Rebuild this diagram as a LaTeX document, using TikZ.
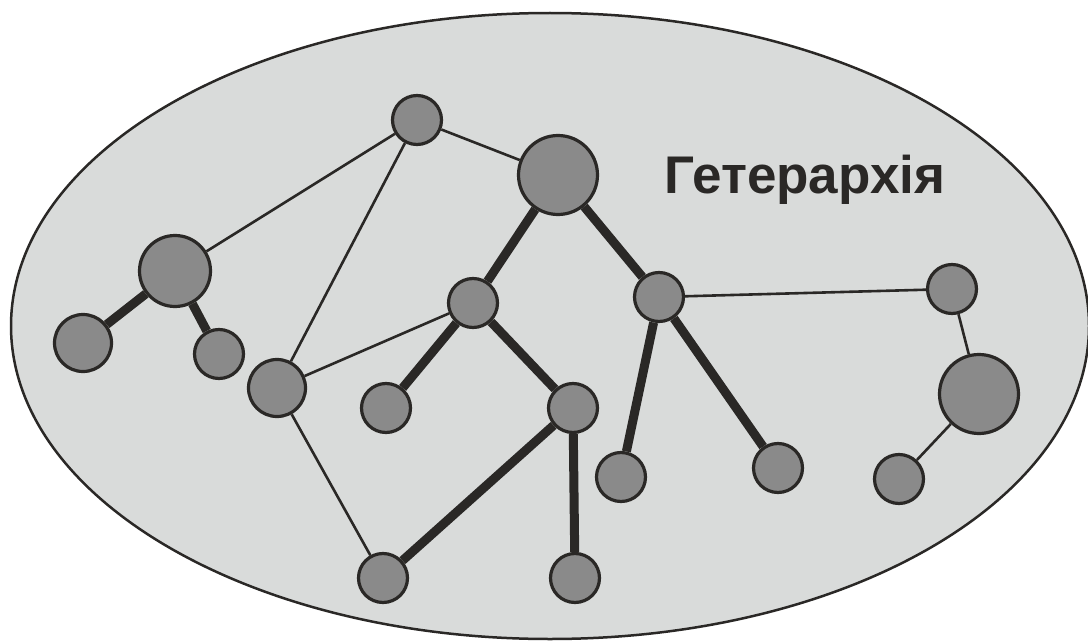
\documentclass[tikz,border=0pt]{standalone}
\usepackage{fontspec}
\setmainfont{Liberation Sans}
\usepackage{tikz}

\definecolor{bgfill}{HTML}{D9DBDA}
\definecolor{nodefill}{HTML}{8A8A8A}
\definecolor{ink}{HTML}{2A2826}

\begin{document}
\begin{tikzpicture}[x=1pt,y=-1pt]
\tikzset{vertex/.style = {shape=circle,draw=ink,fill=nodefill,line width=3.2pt,inner sep=0pt,minimum size=49pt}}
\tikzset{midvertex/.style = {vertex,minimum size=57pt}}
\tikzset{bigvertex/.style = {vertex,minimum size=79pt}}
\tikzset{edge/.style = {-,draw=ink,line width=2.6pt}}
\tikzset{boldedge/.style = {-,draw=ink,line width=9pt}}
\useasboundingbox (0,0) rectangle (1088,642);
\draw[ink,fill=bgfill,line width=2.5pt] (550,326) ellipse [x radius=539, y radius=313];

\node[vertex] (a) at  (417,120) {};
\node[bigvertex] (b) at  (558,175) {};
\node[vertex,minimum size=71pt] (c) at  (175,271) {};
\node[midvertex] (d) at  (83,343) {};
\node[vertex] (e) at  (219,354) {};
\node[midvertex] (f) at  (277,388) {};
\node[vertex] (g) at  (473,303) {};
\node[vertex] (h) at  (386,408) {};
\node[vertex] (i) at  (573,408) {};
\node[vertex] (j) at  (659,297) {};
\node[vertex] (k) at  (621,477) {};
\node[vertex] (l) at  (778,468) {};
\node[vertex] (m) at  (952,289) {};
\node[bigvertex] (n) at  (979,394) {};
\node[vertex] (o) at  (899,479) {};
\node[vertex] (p) at  (383,578) {};
\node[vertex] (q) at  (575,578) {};

\node[text=ink,font=\bfseries\fontsize{53}{60}\selectfont,anchor=base] (title) at (805,193) {Гетерархія};

%edges
\draw[edge] (a) to   (c);
\draw[edge] (a) to   (f);
\draw[edge] (a) to   (b);
\draw[edge] (g) to   (f);
\draw[edge] (f) to   (p);
\draw[edge] (j) to   (m);
\draw[edge] (m) to   (n);
\draw[edge] (n) to   (o);
\draw[boldedge] (c) to   (d);
\draw[boldedge] (c) to   (e);
\draw[boldedge] (b) to   (g);
\draw[boldedge] (b) to   (j);
\draw[boldedge] (g) to   (h);
\draw[boldedge] (g) to   (i);
\draw[boldedge] (i) to   (p);
\draw[boldedge] (i) to   (q);
\draw[boldedge] (j) to   (k);
\draw[boldedge] (j) to   (l);
\end{tikzpicture}
\end{document}
